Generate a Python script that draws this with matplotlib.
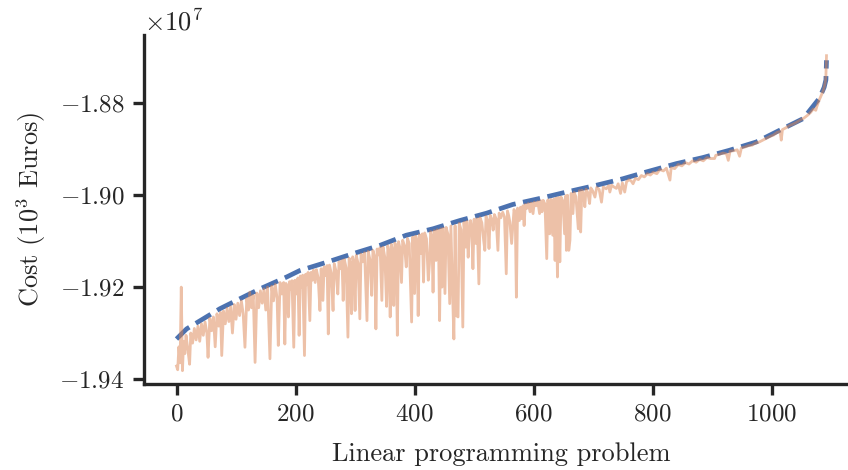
import matplotlib
matplotlib.use("Agg")
import matplotlib.pyplot as plt

# ---- data (cost values in units of 1e7 x 10^3 Euros) ----
blue_x = [0, 17, 45, 73, 118, 140, 185, 207, 252, 297, 342, 386, 431, 476,
          521, 565, 610, 655, 706, 750, 790, 840, 884, 929, 974, 1014, 1053,
          1080, 1088, 1091, 1092]
blue_y = [-1.9313, -1.9291, -1.9269, -1.9247, -1.9218, -1.9204, -1.9178,
          -1.9164, -1.9146, -1.9127, -1.9109, -1.9087, -1.9073, -1.9055,
          -1.9039, -1.9020, -1.9007, -1.8993, -1.8978, -1.8964, -1.8949,
          -1.8931, -1.8918, -1.8902, -1.8884, -1.8858, -1.8833, -1.8789,
          -1.8765, -1.8749, -1.8706]

orange_pts = [
    (0, -1.9372), (2, -1.9380), (4, -1.9330), (6, -1.9365), (8, -1.9200),
    (10, -1.9382), (12, -1.9318), (14, -1.9345), (16, -1.9305), (19, -1.9335),
    (22, -1.9368), (24, -1.9300), (27, -1.9322), (30, -1.9290), (33, -1.9315),
    (36, -1.9285), (39, -1.9318), (42, -1.9280), (45, -1.9305), (48, -1.9276),
    (51, -1.9300), (53, -1.9353), (56, -1.9268), (59, -1.9295), (62, -1.9265),
    (65, -1.9330), (68, -1.9258), (71, -1.9285), (74, -1.9255), (76, -1.9349),
    (79, -1.9252), (82, -1.9280), (85, -1.9246), (88, -1.9275), (91, -1.9243),
    (94, -1.9300), (97, -1.9238), (100, -1.9270), (103, -1.9235), (106, -1.9262),
    (109, -1.9230), (112, -1.9258), (115, -1.9331), (118, -1.9225), (121, -1.9250),
    (123, -1.9211), (126, -1.9245), (129, -1.9218), (132, -1.9364), (135, -1.9213),
    (138, -1.9245), (141, -1.9208), (144, -1.9235), (147, -1.9204), (150, -1.9250),
    (153, -1.9200), (157, -1.9356), (160, -1.9198), (163, -1.9230), (166, -1.9194),
    (169, -1.9225), (171, -1.9327), (174, -1.9190), (177, -1.9215),
    (180, -1.9190), (182, -1.9324), (184, -1.9192), (186, -1.9210), (188, -1.9265),
    (190, -1.9188), (192, -1.9205), (194, -1.9186), (197, -1.9331), (199, -1.9185),
    (202, -1.9215), (204, -1.9180), (206, -1.9305), (208, -1.9176), (210, -1.9200),
    (212, -1.9174), (215, -1.9349), (217, -1.9172), (219, -1.9195), (221, -1.9168),
    (224, -1.9273), (226, -1.9168), (228, -1.9185), (230, -1.9163), (233, -1.9190),
    (235, -1.9162), (238, -1.9180), (241, -1.9251), (243, -1.9160), (246, -1.9229),
    (248, -1.9156), (251, -1.9175), (253, -1.9153), (255, -1.9302), (257, -1.9152),
    (260, -1.9170), (263, -1.9251), (265, -1.9149), (268, -1.9165), (271, -1.9215),
    (273, -1.9145), (276, -1.9160), (278, -1.9142), (280, -1.9229), (282, -1.9140),
    (285, -1.9158), (288, -1.9309), (290, -1.9137), (292, -1.9150), (294, -1.9258),
    (296, -1.9134), (298, -1.9145), (300, -1.9251), (302, -1.9131), (305, -1.9148),
    (308, -1.9269), (310, -1.9128), (313, -1.9145), (316, -1.9125), (320, -1.9273),
    (322, -1.9122), (325, -1.9140), (328, -1.9218), (330, -1.9120), (333, -1.9135),
    (335, -1.9291), (337, -1.9117), (340, -1.9130), (342, -1.9114), (345, -1.9229),
    (347, -1.9113), (350, -1.9135), (353, -1.9242), (355, -1.9110), (357, -1.9125),
    (359, -1.9265), (361, -1.9107), (363, -1.9120), (365, -1.9240), (367, -1.9104),
    (369, -1.9115), (371, -1.9305), (373, -1.9101), (375, -1.9112), (378, -1.9190),
    (380, -1.9098), (383, -1.9110), (386, -1.9156), (388, -1.9094), (391, -1.9105),
    (395, -1.9276), (397, -1.9091), (400, -1.9214), (402, -1.9089), (404, -1.9100),
    (406, -1.9262), (408, -1.9086), (411, -1.9127), (413, -1.9084), (415, -1.9189),
    (417, -1.9082), (420, -1.9095), (423, -1.9185), (425, -1.9149), (427, -1.9079),
    (429, -1.9090), (431, -1.9211), (433, -1.9077), (436, -1.9142), (438, -1.9075),
    (440, -1.9088), (442, -1.9273), (444, -1.9073), (446, -1.9200), (448, -1.9072),
    (451, -1.9214), (453, -1.9070), (456, -1.9085), (459, -1.9236), (461, -1.9067),
    (464, -1.9222), (466, -1.9313), (468, -1.9066), (470, -1.9262), (473, -1.9265),
    (475, -1.9061), (478, -1.9075), (481, -1.9287), (483, -1.9059), (486, -1.9113),
    (488, -1.9057), (490, -1.9135), (492, -1.9084), (494, -1.9055), (496, -1.9068),
    (498, -1.9160), (500, -1.9052), (503, -1.9105), (505, -1.9051), (508, -1.9193),
    (510, -1.9049), (513, -1.9060), (516, -1.9098), (518, -1.9120), (520, -1.9046),
    (523, -1.9056), (525, -1.9116), (527, -1.9044), (530, -1.9054), (532, -1.9076),
    (534, -1.9042), (537, -1.9051), (540, -1.9120), (542, -1.9039), (545, -1.9049),
    (548, -1.9037), (551, -1.9047), (554, -1.9171), (556, -1.9034), (558, -1.9044),
    (560, -1.9058), (563, -1.9105), (565, -1.9069), (567, -1.9031), (569, -1.9039),
    (571, -1.9222), (573, -1.9028), (576, -1.9055), (578, -1.9026), (580, -1.9051),
    (582, -1.9023), (584, -1.9066), (586, -1.9020), (588, -1.9029), (591, -1.9018),
    (594, -1.9036), (596, -1.9017), (599, -1.9040), (601, -1.9015), (604, -1.9023),
    (607, -1.9014), (610, -1.9040), (612, -1.9012), (614, -1.9036), (616, -1.9011),
    (619, -1.9019), (622, -1.9138), (624, -1.9010), (627, -1.9084), (629, -1.9009),
    (632, -1.9087), (634, -1.9008), (636, -1.9142), (638, -1.9006), (640, -1.9178),
    (642, -1.9005), (644, -1.9145), (646, -1.9004), (649, -1.9012), (652, -1.9084),
    (654, -1.9001), (655, -1.9120), (657, -1.9000), (659, -1.9120), (661, -1.9098),
    (663, -1.8996), (666, -1.9040), (668, -1.8994), (671, -1.9003), (675, -1.9073),
    (677, -1.8990), (679, -1.9080), (681, -1.8989), (684, -1.8998), (686, -1.9025),
    (688, -1.8987), (691, -1.8994), (694, -1.9018), (696, -1.8984), (699, -1.8990),
    (703, -1.9004), (706, -1.8983), (710, -1.8987), (714, -1.9015), (717, -1.8982),
    (722, -1.8986), (726, -1.8979), (728, -1.8993), (731, -1.8978), (735, -1.8982),
    (739, -1.8985), (742, -1.8975), (746, -1.8996), (749, -1.8973), (753, -1.8993),
    (756, -1.8971), (760, -1.8966), (764, -1.8969), (767, -1.8975), (771, -1.8963),
    (776, -1.8966), (781, -1.8957), (786, -1.8960), (791, -1.8953), (796, -1.8956),
    (801, -1.8950), (807, -1.8953), (812, -1.8944), (818, -1.8947), (823, -1.8941),
    (829, -1.8967), (831, -1.8940), (837, -1.8942), (843, -1.8933), (849, -1.8936),
    (855, -1.8929), (861, -1.8932), (867, -1.8925), (873, -1.8928), (879, -1.8922),
    (885, -1.8925), (891, -1.8918), (897, -1.8920), (904, -1.8920), (906, -1.8913),
    (912, -1.8911), (918, -1.8908), (924, -1.8910), (927, -1.8924), (930, -1.8904),
    (936, -1.8903), (942, -1.8901), (946, -1.8915), (949, -1.8897), (955, -1.8895),
    (961, -1.8892), (967, -1.8891), (973, -1.8886), (979, -1.8884), (985, -1.8880),
    (991, -1.8876), (997, -1.8872), (1003, -1.8869), (1009, -1.8863), (1014, -1.8861),
    (1016, -1.8880), (1018, -1.8857), (1024, -1.8853), (1030, -1.8848), (1036, -1.8845),
    (1042, -1.8841), (1048, -1.8836), (1054, -1.8832), (1060, -1.8826), (1065, -1.8820),
    (1070, -1.8812), (1074, -1.8815), (1076, -1.8806), (1080, -1.8792), (1084, -1.8780),
    (1087, -1.8770), (1089, -1.8760), (1090, -1.8753), (1091, -1.8740), (1092, -1.8696),
]
orange_x = [p[0] for p in orange_pts]
orange_y = [p[1] for p in orange_pts]

SCALE = 1e7
y_ticks = [-1.94, -1.92, -1.90, -1.88]
x_ticks = [0, 200, 400, 600, 800, 1000]

plt.rcParams.update({
    "font.family": "serif",
    "font.serif": ["cmr10"],
    "mathtext.fontset": "cm",
    "axes.formatter.use_mathtext": True,
    "axes.unicode_minus": True,
    "text.color": "#262626",
    "axes.labelcolor": "#262626",
    "xtick.color": "#262626",
    "ytick.color": "#262626",
    "axes.edgecolor": "#262626",
})

W, H = 848, 470
fig = plt.figure(figsize=(W / 100, H / 100), dpi=100)
left, right, top, bottom = 144, 859, 35, 384
ax = fig.add_axes([left / W, (H - bottom) / H, (right - left) / W, (bottom - top) / H])

ax.plot(blue_x, [v * SCALE for v in blue_y], color="#4C72B0", lw=3.4,
        ls="--", zorder=2)
ax.plot(orange_x, [v * SCALE for v in orange_y], color="#DD8452", lw=2.0,
        alpha=0.5, zorder=3)

ax.set_xlim(-54.6, 1146.6)
ax.set_ylim(-1.9411 * SCALE, -1.8651 * SCALE)
ax.set_xticks(x_ticks)
ax.set_yticks([t * SCALE for t in y_ticks])
ax.ticklabel_format(axis="y", style="sci", scilimits=(0, 0), useOffset=False)

for s in ["top", "right"]:
    ax.spines[s].set_visible(False)
for s in ["left", "bottom"]:
    ax.spines[s].set_linewidth(2.4)
ax.tick_params(axis="both", which="major", length=8, width=2.4,
               labelsize=18, pad=6)
ax.yaxis.get_offset_text().set_fontsize(19)

ax.set_xlabel("Linear programming problem", fontsize=19, labelpad=12)
ax.set_ylabel(r"Cost ($10^3$ Euros)", fontsize=19, labelpad=8)

fig.savefig("out.png", dpi=100)
